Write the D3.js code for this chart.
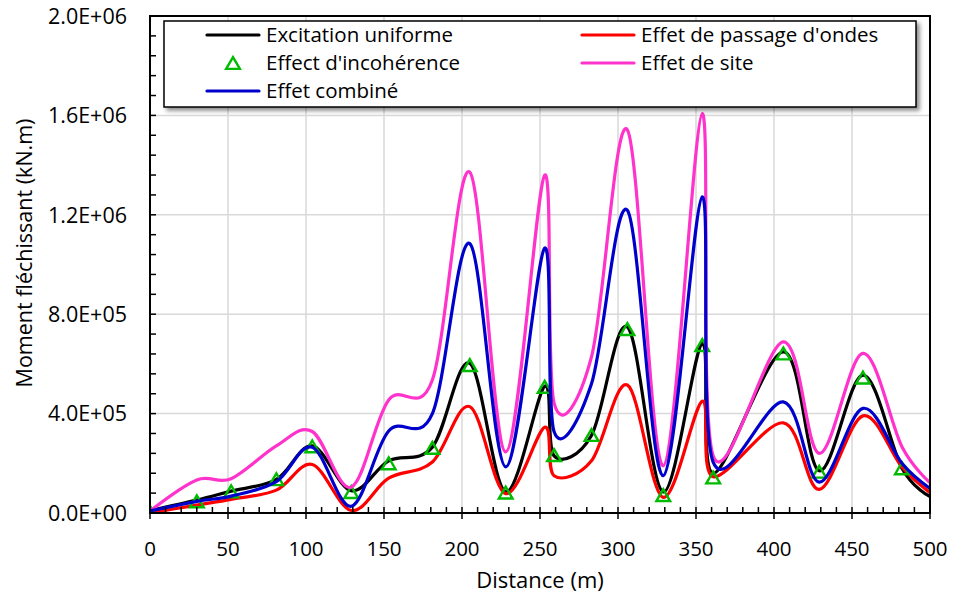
<!DOCTYPE html>
<html>
<head>
<meta charset="utf-8">
<script src="https://cdn.jsdelivr.net/npm/d3@7"></script>
<style>
  html, body { margin: 0; padding: 0; background: #fff; }
  svg { display: block; }
  text { font-family: "Open Sans", "Noto Sans", sans-serif; fill: #000; }
</style>
</head>
<body>
<svg id="chart" width="953" height="594"></svg>
<script>
// Distance along the bridge (m)
const distance = [0, 30, 52, 81, 104, 129, 153, 181, 205, 228, 253, 259, 283, 306, 329, 354, 361, 406, 429, 457, 482, 500];

// Bending moment (kN.m) for each excitation case
const uniforme = [10000, 52000, 88000, 135000, 270000, 90000, 210000, 265000, 602000, 86000, 510000, 230000, 312000, 749000, 85000, 682000, 160000, 648000, 170000, 555000, 180000, 66000];
const passageOndes = [0, 32000, 55000, 92000, 195000, 10000, 140000, 205000, 428000, 78000, 345000, 150000, 210000, 515000, 63000, 450000, 146000, 363000, 95000, 391000, 185000, 82000];
const site = [8000, 133000, 138000, 270000, 328000, 104000, 455000, 535000, 1372000, 246000, 1360000, 443000, 628000, 1542000, 190000, 1607000, 230000, 689000, 240000, 642000, 267000, 122000];
const combine = [8000, 47000, 68000, 126000, 265000, 27000, 330000, 400000, 1084000, 186000, 1066000, 328000, 520000, 1218000, 150000, 1272000, 205000, 447000, 124000, 421000, 200000, 99000];

// Incoherence case, shown as markers only
const incohDistance = [0, 30, 52, 81, 104, 129, 153, 181, 205, 228, 253, 259, 283, 306, 329, 354, 361, 406, 429, 457, 482];
const incoherence = [5000, 47000, 87000, 136000, 268000, 84000, 200000, 262000, 595000, 82000, 508000, 233000, 314000, 740000, 72000, 676000, 143000, 642000, 166000, 545000, 180000];

const xTicks = [0, 50, 100, 150, 200, 250, 300, 350, 400, 450, 500];
const yTicks = [0, 400000, 800000, 1200000, 1600000, 2000000];

const seriesNames = ["Excitation uniforme", "Effet de passage d'ondes", "Effect d'incohérence", "Effet de site", "Effet combiné"];

const svg = d3.select("#chart");
const plotLeft = 150, plotRight = 930, plotTop = 16, plotBottom = 513;

const x = d3.scaleLinear().domain([0, 500]).range([plotLeft, plotRight]);
const y = d3.scaleLinear().domain([0, 2000000]).range([plotBottom, plotTop]);

const defs = svg.append("defs");
defs.append("clipPath").attr("id", "plot-clip")
  .append("rect").attr("x", plotLeft).attr("y", plotTop)
  .attr("width", plotRight - plotLeft).attr("height", plotBottom - plotTop);
const shadow = defs.append("filter").attr("id", "legend-shadow")
  .attr("x", "-5%").attr("y", "-20%").attr("width", "115%").attr("height", "150%");
shadow.append("feDropShadow").attr("dx", 3).attr("dy", 3).attr("stdDeviation", 2.2)
  .attr("flood-color", "#000").attr("flood-opacity", 0.45);

// Gridlines
const grid = svg.append("g");
grid.selectAll("line.vg").data(xTicks.slice(1, -1)).join("line")
  .attr("class", "vg")
  .attr("x1", d => x(d)).attr("x2", d => x(d))
  .attr("y1", plotTop).attr("y2", plotBottom)
  .attr("stroke", "#d9d9d9").attr("stroke-width", 1.5);
grid.selectAll("line.hg").data(yTicks.slice(1, -1)).join("line")
  .attr("class", "hg")
  .attr("x1", plotLeft).attr("x2", plotRight)
  .attr("y1", d => y(d)).attr("y2", d => y(d))
  .attr("stroke", "#d9d9d9").attr("stroke-width", 1.5);

// Series lines (Excel-style smoothed)
const line = d3.line()
  .x((d, i) => x(distance[i]))
  .y(d => y(d))
  .curve(d3.curveCardinal.tension(0));

const plot = svg.append("g").attr("clip-path", "url(#plot-clip)");
const lineSeries = [
  { values: uniforme, color: "#000000" },
  { values: passageOndes, color: "#ff0000" },
];
const upperSeries = [
  { values: site, color: "#ff33cc" },
  { values: combine, color: "#0000cc" },
];

function drawLines(list) {
  list.forEach(s => {
    plot.append("path")
      .datum(s.values)
      .attr("d", line)
      .attr("fill", "none")
      .attr("stroke", s.color)
      .attr("stroke-width", 3.2)
      .attr("stroke-linejoin", "round")
      .attr("stroke-linecap", "round");
  });
}

// Open triangle marker, centred on its bounding box
const triangleMarker = {
  draw(ctx, size) {
    const h = Math.sqrt(size);
    const w = h * 0.58;
    ctx.moveTo(0, -h / 2);
    ctx.lineTo(w, h / 2);
    ctx.lineTo(-w, h / 2);
    ctx.closePath();
  }
};
const markerPath = d3.symbol().type(triangleMarker).size(140);

drawLines(lineSeries);
plot.selectAll("path.tri").data(incoherence).join("path")
  .attr("class", "tri")
  .attr("transform", (d, i) => `translate(${x(incohDistance[i])},${y(d)})`)
  .attr("d", markerPath)
  .attr("fill", "none")
  .attr("stroke", "#00bb00")
  .attr("stroke-width", 2.4);
drawLines(upperSeries);

// Frame
svg.append("rect")
  .attr("x", plotLeft).attr("y", plotTop)
  .attr("width", plotRight - plotLeft).attr("height", plotBottom - plotTop)
  .attr("fill", "none").attr("stroke", "#000").attr("stroke-width", 2);

// Y axis: inside ticks every 80 000, labels every 400 000
const yMinor = d3.range(0, 2000001, 80000);
svg.append("g").selectAll("line").data(yMinor).join("line")
  .attr("x1", plotLeft).attr("x2", plotLeft + 6)
  .attr("y1", d => y(d)).attr("y2", d => y(d))
  .attr("stroke", "#000").attr("stroke-width", 1.5);
const fmt = d => {
  const [m, e] = d.toExponential(1).split("e");
  const ev = parseInt(e, 10);
  return m.toUpperCase() + "E" + (ev < 0 ? "-" : "+") + String(Math.abs(ev)).padStart(2, "0");
};
svg.append("g").selectAll("text").data(yTicks).join("text")
  .attr("x", 127).attr("y", d => y(d))
  .attr("dy", "0.36em")
  .attr("text-anchor", "end")
  .attr("font-size", 21.5)
  .text(fmt);

// X axis: minor inside ticks every 10 m, major crossing ticks every 50 m
const xMinor = d3.range(0, 501, 10);
svg.append("g").selectAll("line").data(xMinor).join("line")
  .attr("x1", d => x(d)).attr("x2", d => x(d))
  .attr("y1", plotBottom - 6).attr("y2", d => (d % 50 === 0 ? plotBottom + 6 : plotBottom))
  .attr("stroke", "#000").attr("stroke-width", 1.5);
svg.append("g").selectAll("text").data(xTicks).join("text")
  .attr("x", d => x(d)).attr("y", 549)
  .attr("dy", "0.36em")
  .attr("text-anchor", "middle")
  .attr("font-size", 20.5)
  .text(d => d);

// Axis titles
svg.append("text")
  .attr("x", x(250)).attr("y", 580).attr("dy", "0.36em")
  .attr("text-anchor", "middle").attr("font-size", 22)
  .text("Distance (m)");
svg.append("text")
  .attr("transform", "translate(24,253) rotate(-90)")
  .attr("dy", "0.36em")
  .attr("text-anchor", "middle").attr("font-size", 21.5)
  .text("Moment fléchissant (kN.m)");

// Legend
const legend = svg.append("g");
legend.append("rect")
  .attr("x", 164).attr("y", 21).attr("width", 752).attr("height", 86)
  .attr("fill", "#fff").attr("stroke", "#000").attr("stroke-width", 1.5)
  .attr("filter", "url(#legend-shadow)");

const legendItems = [
  { name: seriesNames[0], color: "#000000", type: "line", col: 0, row: 0 },
  { name: seriesNames[1], color: "#ff0000", type: "line", col: 1, row: 0 },
  { name: seriesNames[2], color: "#00bb00", type: "marker", col: 0, row: 1 },
  { name: seriesNames[3], color: "#ff33cc", type: "line", col: 1, row: 1 },
  { name: seriesNames[4], color: "#0000cc", type: "line", col: 0, row: 2 },
];
const colX = [207, 582];
const rowY = [35, 63, 91];
legendItems.forEach(it => {
  const g = legend.append("g").attr("transform", `translate(${colX[it.col]},${rowY[it.row]})`);
  if (it.type === "line") {
    g.append("line").attr("x1", 0).attr("x2", 52).attr("y1", 0).attr("y2", 0)
      .attr("stroke", it.color).attr("stroke-width", 3.2).attr("stroke-linecap", "round");
  } else {
    g.append("path").attr("transform", "translate(26,0)").attr("d", markerPath)
      .attr("fill", "none").attr("stroke", it.color).attr("stroke-width", 2.4);
  }
  g.append("text").attr("x", 59).attr("y", 0).attr("dy", "0.36em")
    .attr("font-size", 20.5).text(it.name);
});
</script>
</body>
</html>
